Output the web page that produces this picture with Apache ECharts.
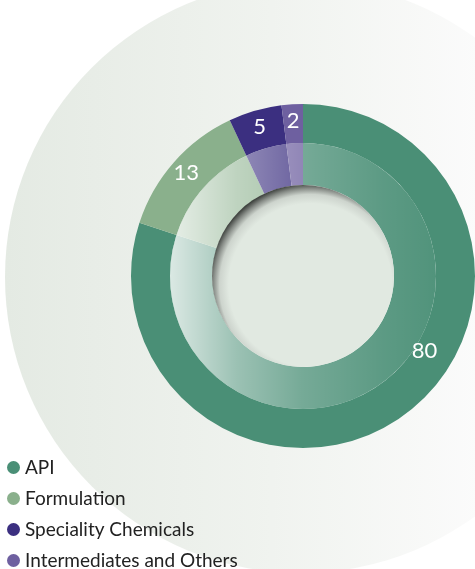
<!DOCTYPE html>
<html>
<head>
<meta charset="utf-8">
<script src="https://cdn.jsdelivr.net/npm/echarts@6/dist/echarts.min.js"></script>
<style>
  html, body { margin: 0; padding: 0; background: #ffffff; }
  #chart { width: 475px; height: 569px; }
</style>
</head>
<body>
<div id="chart"></div>
<script>
// segment names, values and colours
var segmentNames = ['API', 'Formulation', 'Speciality Chemicals', 'Intermediates and Others'];
var segmentValues = [80, 13, 5, 2];
var segmentColors = ['#4a8f76', '#8ab08c', '#3b2f80', '#6e60a0'];

var chart = echarts.init(document.getElementById('chart'));

var pieCenter = [303, 276];

function segData() {
    return segmentNames.map(function(n, i) {
        return { name: n, value: segmentValues[i], itemStyle: { color: segmentColors[i] } };
    });
}

var option = {
    backgroundColor: '#ffffff',
    animation: false,
    legend: {
        orient: 'vertical',
        left: 7,
        top: 458,
        height: 140,
        padding: 0,
        itemGap: 12,
        itemWidth: 13,
        itemHeight: 13,
        icon: 'circle',
        data: segmentNames,
        textStyle: { fontFamily: 'Lato', fontSize: 19, color: '#222222' }
    },
    series: [
        // big pale circle behind the chart
        {
            type: 'pie',
            silent: true,
            center: [301, 277],
            radius: [0, 296],
            z: 1,
            label: { show: false },
            labelLine: { show: false },
            data: [{
                value: 1, name: 'bg',
                itemStyle: {
                    color: new echarts.graphic.LinearGradient(0, 0, 1, 0, [
                        { offset: 0, color: '#e4eae3' },
                        { offset: 0.45, color: '#f0f3ef' },
                        { offset: 0.8, color: '#fbfbfb' },
                        { offset: 1, color: '#ffffff' }
                    ])
                }
            }]
        },
        // outer ring with labels
        {
            type: 'pie',
            center: pieCenter,
            radius: [133, 172],
            startAngle: 90,
            clockwise: true,
            avoidLabelOverlap: false,
            z: 2,
            emphasis: { disabled: true },
            label: {
                show: true,
                position: 'inside',
                formatter: '{c}',
                color: '#ffffff',
                fontFamily: 'Lato',
                fontSize: 22
            },
            labelLine: { show: false },
            labelLayout: function(params) {
                if (params.dataIndex === 0) {
                    return { dx: 30, dy: -51 };
                }
            },
            data: segData()
        },
        // inner band
        {
            type: 'pie',
            silent: true,
            center: pieCenter,
            radius: [91, 133],
            startAngle: 90,
            clockwise: true,
            z: 2,
            label: { show: false },
            labelLine: { show: false },
            data: segData()
        },
        // white fade over the inner band
        {
            type: 'pie',
            silent: true,
            center: pieCenter,
            radius: [91, 133],
            z: 3,
            label: { show: false },
            labelLine: { show: false },
            data: [{
                value: 1, name: 'fade',
                itemStyle: {
                    color: new echarts.graphic.LinearGradient(0, 0, 1, 0, [
                        { offset: 0, color: 'rgba(255,255,255,0.8)' },
                        { offset: 0.25, color: 'rgba(255,255,255,0.45)' },
                        { offset: 0.5, color: 'rgba(255,255,255,0.24)' },
                        { offset: 0.8, color: 'rgba(255,255,255,0.1)' },
                        { offset: 1, color: 'rgba(255,255,255,0.04)' }
                    ])
                }
            }]
        },
        // centre disc with inset shadow
        {
            type: 'pie',
            silent: true,
            center: pieCenter,
            radius: [0, 91],
            z: 4,
            label: { show: false },
            labelLine: { show: false },
            data: [{
                value: 1, name: 'hole',
                itemStyle: {
                    color: new echarts.graphic.RadialGradient(0.54, 0.55, 0.56, [
                        { offset: 0, color: '#e1e9e1' },
                        { offset: 0.8, color: '#e1e9e1' },
                        { offset: 0.89, color: '#cdd4cd' },
                        { offset: 0.95, color: '#868b86' },
                        { offset: 1, color: '#3f433f' }
                    ])
                }
            }]
        }
    ]
};

chart.setOption(option);
</script>
</body>
</html>
